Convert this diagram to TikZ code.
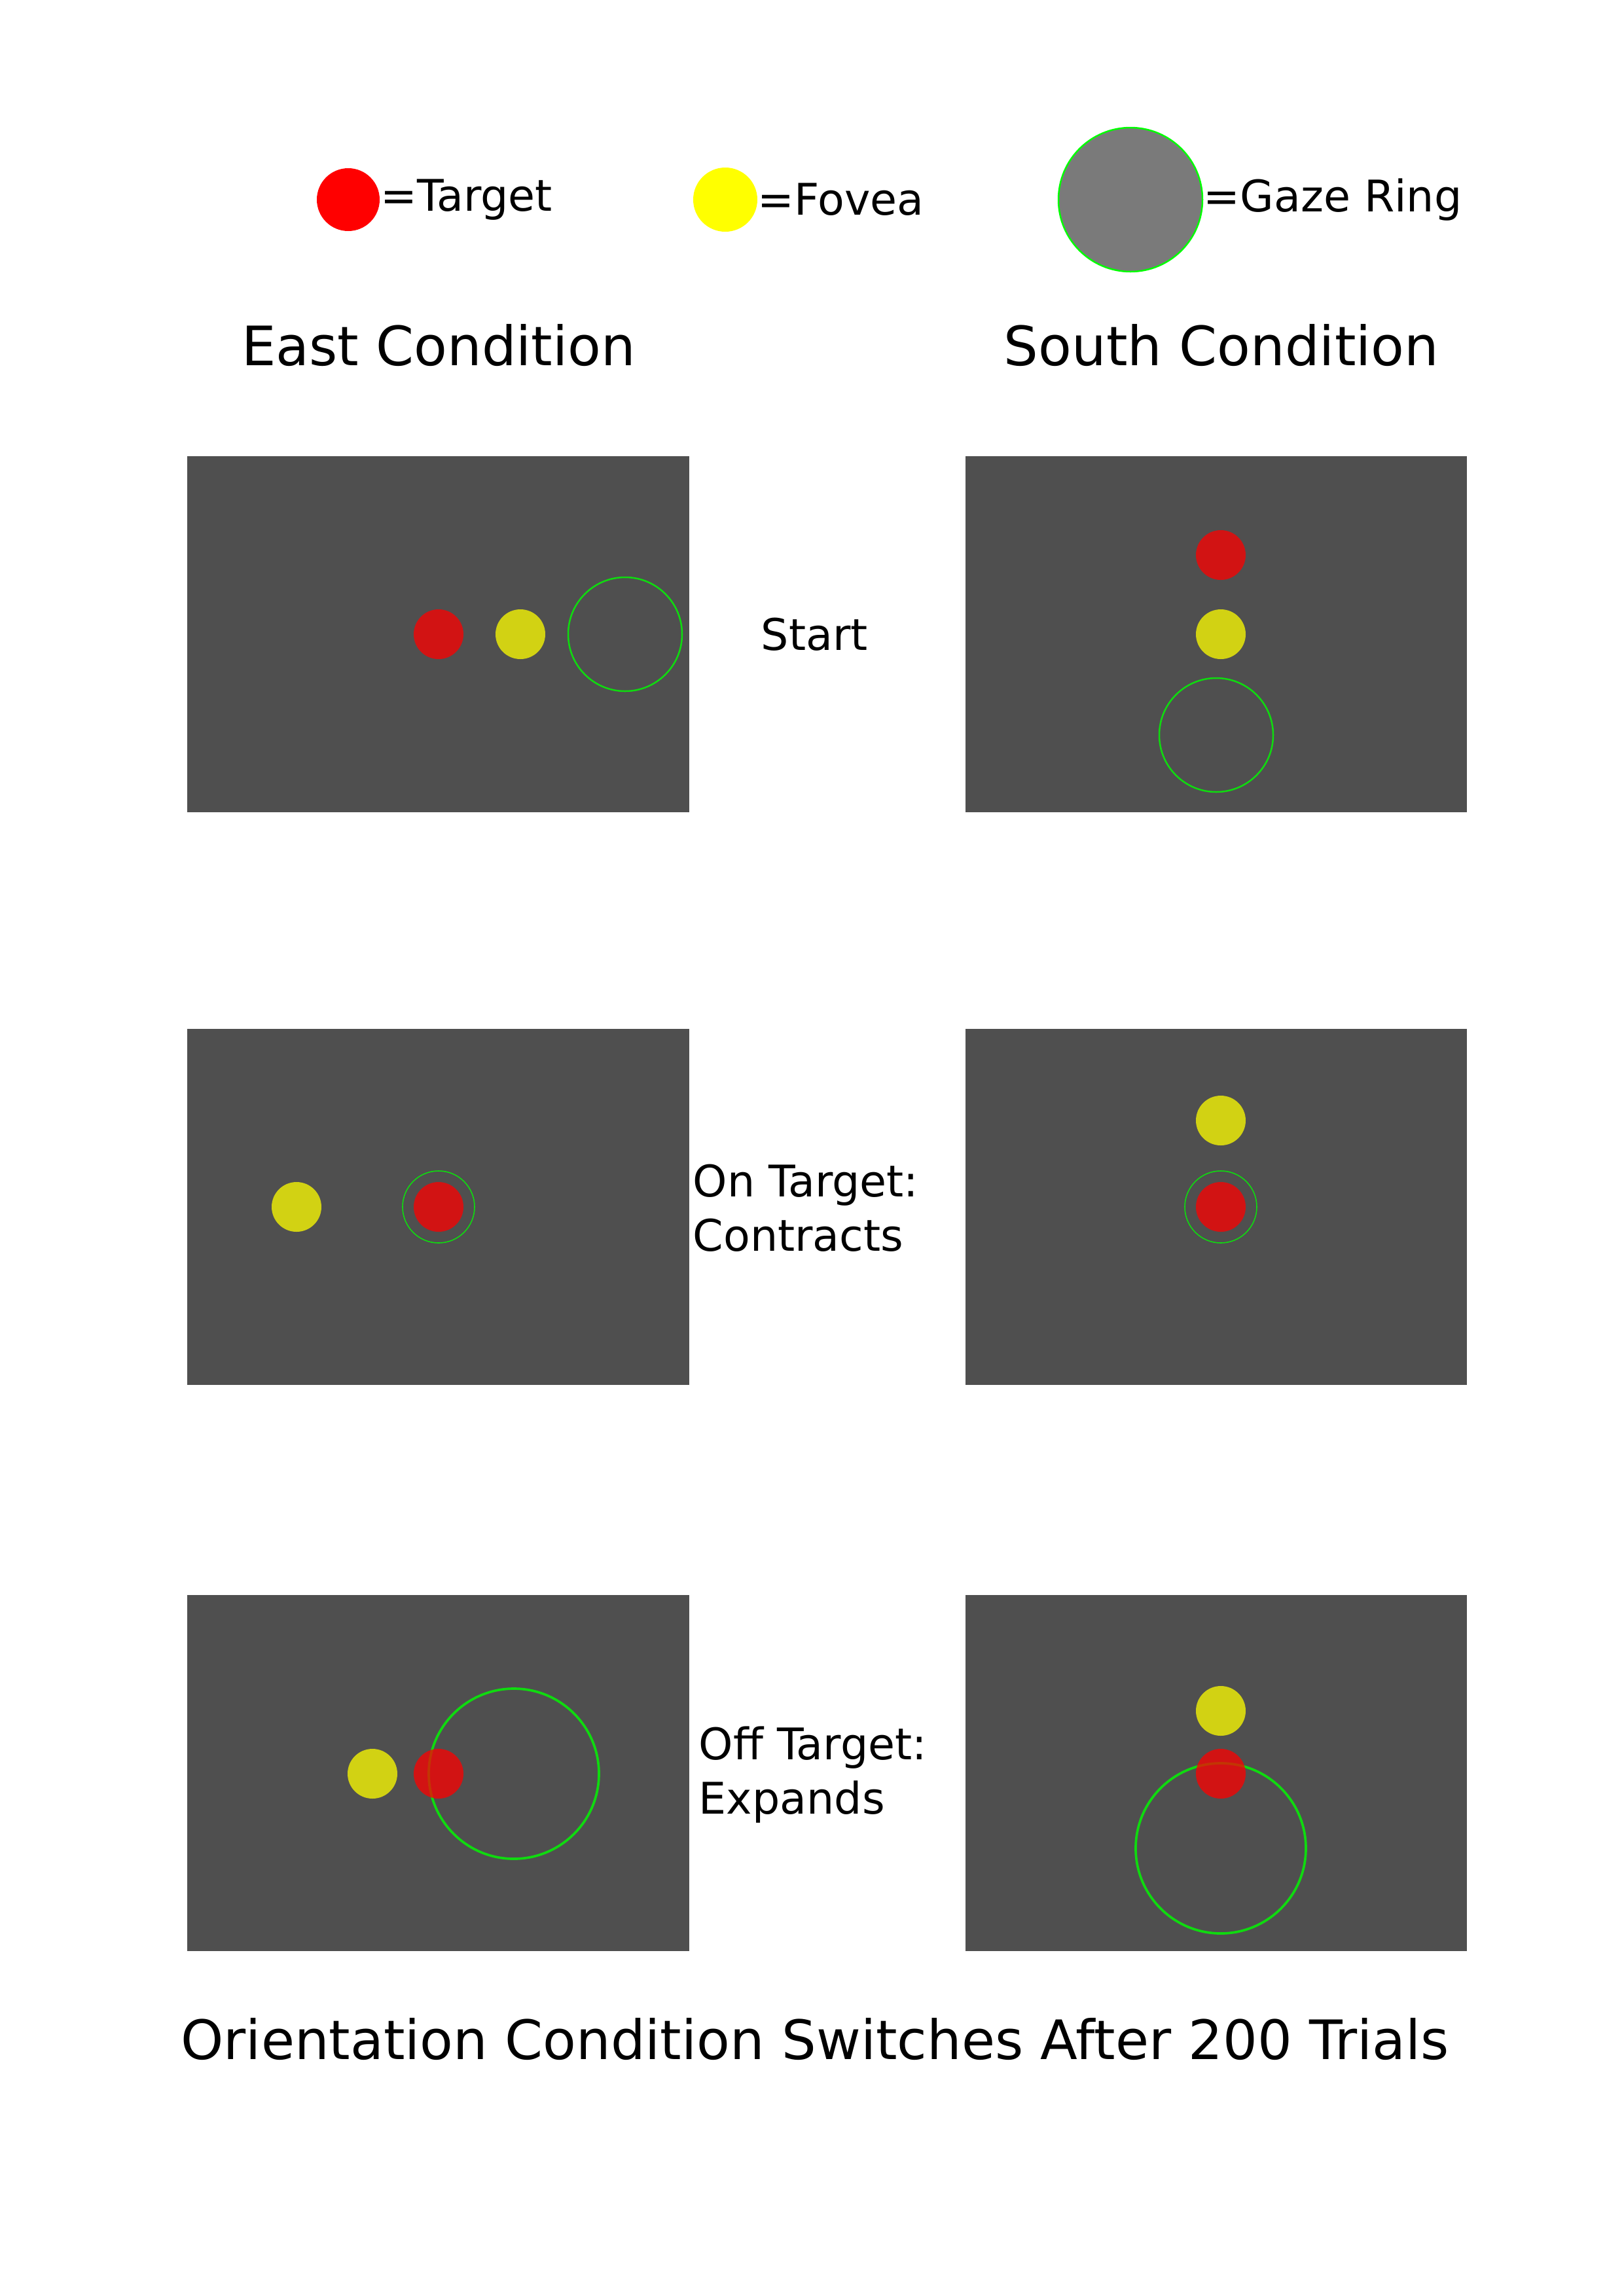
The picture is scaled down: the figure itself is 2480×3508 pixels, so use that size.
\documentclass[tikz,border=0pt]{standalone}
\usepackage{fontspec}
\setmainfont{DejaVu Sans}
\definecolor{panelgray}{RGB}{79,79,79}
\definecolor{legendgray}{RGB}{122,122,122}
\definecolor{ringgreen}{RGB}{0,255,0}
\definecolor{targetred}{RGB}{255,0,0}
\definecolor{foveayellow}{RGB}{255,255,0}

\begin{document}
\begin{tikzpicture}[x=0.01cm, y=-0.01cm,
    sidetext/.style={inner sep=0pt, font=\fontsize{6.66mm}{8.3mm}\selectfont},
    heading/.style={inner sep=0pt, font=\fontsize{8.3mm}{10mm}\selectfont},
    target/.style={fill=targetred, opacity=0.75},
    fovea/.style={fill=foveayellow, opacity=0.75},
    gaze/.style={draw=ringgreen, opacity=0.8}]

    \useasboundingbox (0,0) rectangle (2480,3508);

    % 1. Legend
    \fill[targetred] (532,305) circle (48);
    \node[sidetext, anchor=west] (keytarget) at (581,305) {=Target};
    \fill[foveayellow] (1108,305) circle (49);
    \node[sidetext, anchor=west] (keyfovea) at (1157,305) {=Fovea};
    \filldraw[fill=legendgray, draw=ringgreen, line width=0.25mm] (1727,305) circle (110);
    \node[sidetext, anchor=west] (keygaze) at (1838,305) {=Gaze Ring};

    % 2. Column headings
    \node[heading, anchor=base] (easttitle) at (670,558) {East Condition};
    \node[heading, anchor=base] (southtitle) at (1866,558) {South Condition};

    % 3. Screens
    \foreach \py in {697,1572,2437} {
        \fill[panelgray] (286,\py) rectangle (1053,\py+544);
        \fill[panelgray] (1475,\py) rectangle (2241,\py+544);
    }

    % 4. Ring, target and fovea on each screen
    \foreach \gx/\gy/\gr/\gw/\tx/\ty/\fx/\fy in {
        955/969/87/0.25/670/969/795/969,
        1858/1123/87/0.25/1865/848/1865/969,
        670/1844/55/0.16/670/1844/453/1844,
        1865/1844/55/0.16/1865/1844/1865/1712,
        785/2710/130/0.37/670/2710/569/2710,
        1865/2824/130/0.37/1865/2710/1865/2614} {
        \draw[gaze, line width=\gw mm] (\gx,\gy) circle (\gr);
        \fill[target] (\tx,\ty) circle (38);
        \fill[fovea] (\fx,\fy) circle (38);
    }

    % 5. Row labels
    \node[sidetext, anchor=west] (start) at (1162,969) {Start};
    \node[sidetext, anchor=west, align=left] (ontarget) at (1058,1846) {On Target:\\Contracts};
    \node[sidetext, anchor=west, align=left] (offtarget) at (1067,2712) {Off Target:\\Expands};

    \node[heading, anchor=base] (switchnote) at (1245,3146) {Orientation Condition Switches After 200 Trials};

\end{tikzpicture}
\end{document}
